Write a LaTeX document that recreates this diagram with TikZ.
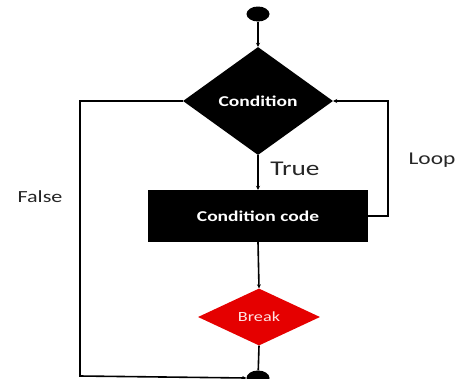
\documentclass[tikz,border=0pt]{standalone}
\usepackage{fontspec}
\setmainfont[FakeStretch=1.3]{Carlito}
\usetikzlibrary{shapes.geometric,arrows.meta}
\tikzset{
  romb/.style={diamond, fill=black, inner sep=0pt, text=white, font=\bfseries\fontsize{15}{18}\selectfont},
  blok/.style={rectangle, fill=black, inner sep=0pt, text=white, font=\bfseries\fontsize{15}{18}\selectfont},
  tochka/.style={ellipse, fill=black, inner sep=0pt, minimum width=23pt, minimum height=15pt},
  strelka/.style={line width=1.6pt, -{Stealth[length=4pt,width=4pt]}},
  liniya/.style={line width=1.6pt},
  metka/.style={font=\fontsize{18}{20}\selectfont, text=black!85}
}
\begin{document}
\begin{tikzpicture}[x=1pt,y=-1pt]
\useasboundingbox (0,0) rectangle (457,378);
% узлы
                \node [tochka] (start) at ( 258, 14 ) {};
                \node [romb, minimum width=150pt, minimum height=108pt] (cond) at ( 258, 101 ) {Condition};
                \node [blok, minimum width=220pt, minimum height=52pt] (code) at ( 258, 216 ) {Condition code};
                \node [romb, fill=red!90!black, text=red!10, font=\fontsize{14}{16}\selectfont, minimum width=122pt, minimum height=57pt] (brk) at ( 259, 317 ) {Break};
                \node [tochka] (stop) at ( 258, 378 ) {};
% стрелки вниз
                \draw [strelka] (start) -- (cond.north);
                \draw [strelka] (cond.south) -- (code.north);
                \draw [strelka] (code.south) -- (brk.north);
                \draw [liniya] (brk.south) -- (stop);
% петля
                \coordinate (povorot) at ( 388, 216 );
                \draw [strelka] (code.east) -- (povorot) |- (cond.east);
% выход
                \coordinate (ugol) at ( 80, 376 );
                \draw [strelka] (cond.west) -| (ugol) -- (stop.west);
% подписи
                \node [metka, font=\fontsize{21}{23}\selectfont] (true) at ( 295, 169 ) {True};
                \node [metka] (loop) at ( 432, 160 ) {Loop};
                \node [metka, font=\fontsize{17}{19}\selectfont] (false) at ( 40, 197 ) {False};
            \end{tikzpicture}
\end{document}
